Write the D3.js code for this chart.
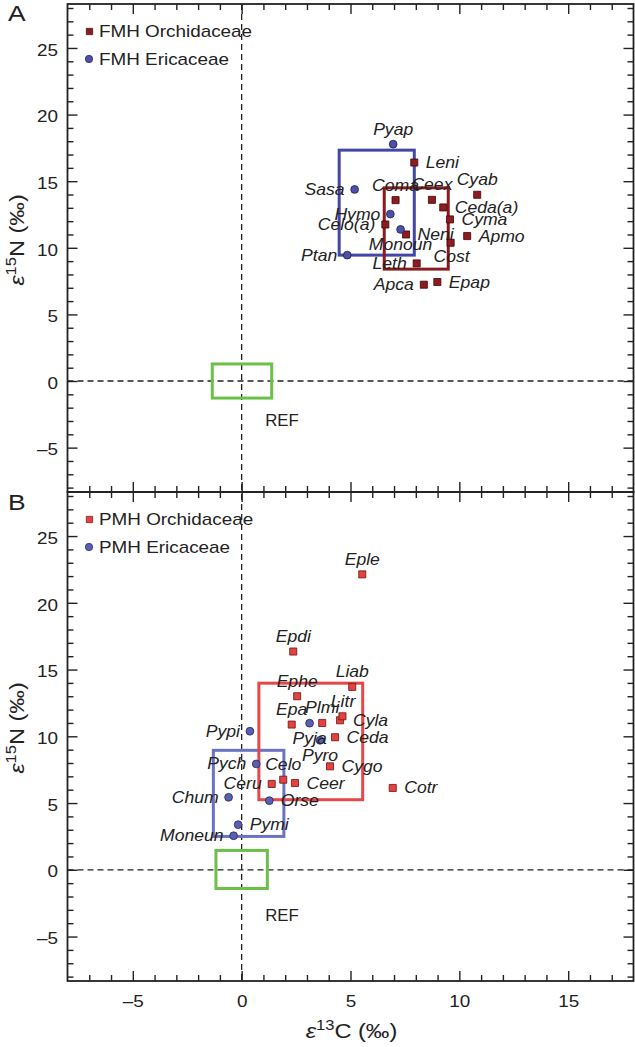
<!DOCTYPE html>
<html><head><meta charset="utf-8">
<script src="https://cdn.jsdelivr.net/npm/d3@7"></script>
<style>
body{margin:0;background:#fff}
svg{display:block}
text{font-family:"Liberation Sans",Arial,Helvetica,sans-serif;fill:#222}
</style>
</head><body><svg id="c" width="635" height="1047"></svg>
<script>
// ---------- data ----------
const xMajorTicks = [-5, 0, 5, 10, 15];
const yMajorTicks = [-5, 0, 5, 10, 15, 20, 25];

// Panel A: fully mycoheterotrophic (FMH)
const fmhOrchNames = ["Leni","Coma","Ceex","Cyab","Ceda(a)","Cyma","Celo(a)","Neni","Apmo","Cost","Leth","Apca","Epap"];
const fmhOrchC     = [7.93, 7.07, 8.74, 10.82, 9.26, 9.57, 6.60, 7.55, 10.36, 9.60, 8.04, 8.37, 8.99];
const fmhOrchN     = [16.4, 13.58, 13.6, 13.98, 13.03, 12.13, 11.75, 11.0, 10.88, 10.38, 8.83, 7.23, 7.43];

const fmhEricNames = ["Pyap","Sasa","Hymo","Monoun","Ptan"];
const fmhEricC     = [6.96, 5.19, 6.83, 7.30, 4.85];
const fmhEricN     = [17.78, 14.38, 12.53, 11.38, 9.45];

// Panel B: partially mycoheterotrophic (PMH)
const pmhOrchNames = ["Eple","Epdi","Liab","Ephe","Epa","Plmi","Litr","Cyla","Ceda","Cygo","Celo","Ceru","Ceer","Cotr"];
const pmhOrchC     = [5.54, 2.37, 5.08, 2.55, 2.30, 3.70, 4.52, 4.63, 4.29, 4.06, 1.91, 1.38, 2.45, 6.94];
const pmhOrchN     = [22.13, 16.35, 13.70, 13.0, 10.88, 11.0, 11.2, 11.5, 9.93, 7.75, 6.75, 6.43, 6.5, 6.13];

const pmhEricNames = ["Pypi","Pyja","Pyro","Pych","Chum","Orse","Pymi","Moneun"];
const pmhEricC     = [0.38, 3.12, 3.6, 0.67, -0.6, 1.27, -0.16, -0.37];
const pmhEricN     = [10.38, 10.98, 9.7, 7.93, 5.43, 5.18, 3.38, 2.55];

// group ranges (boxes): [cMin, cMax, nMin, nMax]
const boxFmhEric = [4.48, 7.93, 9.45, 17.33];
const boxFmhOrch = [6.55, 9.49, 8.4, 14.5];
const boxRefA    = [-1.35, 1.38, -1.28, 1.28];
const boxPmhOrch = [0.79, 5.56, 5.25, 13.98];
const boxPmhEric = [-1.3, 1.94, 2.5, 8.95];
const boxRefB    = [-1.18, 1.18, -1.4, 1.45];

const legendA = ["FMH Orchidaceae", "FMH Ericaceae"];
const legendB = ["PMH Orchidaceae", "PMH Ericaceae"];

// ---------- layout (label placement) ----------
const labelSide = {
  Pyap:"t", Leni:"r", Coma:"t", Ceex:"t", Cyab:"t", "Ceda(a)":"r", Cyma:"r", "Celo(a)":"l",
  Neni:"r", Apmo:"r", Cost:"b", Leth:"l", Apca:"l", Epap:"r",
  Sasa:"l", Hymo:"l", Monoun:"b", Ptan:"l",
  Eple:"t", Epdi:"t", Liab:"t", Ephe:"t", Epa:"t", Plmi:"t", Litr:"t", Cyla:"r", Ceda:"r",
  Cygo:"r", Celo:"t", Ceru:"l", Ceer:"r", Cotr:"r",
  Pypi:"l", Pyja:"b", Pyro:"b", Pych:"l", Chum:"l", Orse:"r", Pymi:"r", Moneun:"l"
};
const labelNudge = { Litr:[3,-4], Cyla:[-1,4], Cost:[1,-1] };

// ---------- drawing ----------
const svg = d3.select("#c");
const x = d3.scaleLinear().domain([-8, 18]).range([67.5, 633.5]);
const panels = [
  {top:4, bottom:492, letter:"A", legend:legendA,
   orch:{names:fmhOrchNames,c:fmhOrchC,n:fmhOrchN,fill:"#8e1b1f",stroke:"#3d0708"},
   eric:{names:fmhEricNames,c:fmhEricC,n:fmhEricN,fill:"#4c51a4",stroke:"#1e1f55"},
   boxes:[{b:boxFmhEric,col:"#4446a6"},{b:boxFmhOrch,col:"#8b1a1f"}],
   ref:boxRefA, refLabel:[1.08,-2.95]},
  {top:492, bottom:981, letter:"B", legend:legendB,
   orch:{names:pmhOrchNames,c:pmhOrchC,n:pmhOrchN,fill:"#e5413e",stroke:"#6a1515"},
   eric:{names:pmhEricNames,c:pmhEricC,n:pmhEricN,fill:"#5a60b0",stroke:"#23255a"},
   boxes:[{b:boxPmhEric,col:"#6a72c4"},{b:boxPmhOrch,col:"#e8474a"}],
   ref:boxRefB, refLabel:[1.08,-3.4]}
];

function T(g, px, py, str, o={}) {
  const size=o.size||16, sx=o.sx||1.18;
  return g.append("text")
    .attr("transform", `translate(${px},${py})${o.rot?` rotate(${o.rot})`:""} scale(${sx},1)`)
    .attr("text-anchor", o.anchor||"start")
    .style("font-size", size+"px")
    .style("font-style", o.italic?"italic":"normal")
    .text(str);
}
const fmt = d => d < 0 ? "\u2013" + Math.abs(d) : String(d);
const xMinor = d3.range(-7, 18).filter(v => v % 5 !== 0);
const yMinor = d3.range(-8, 29).filter(v => v % 5 !== 0);

const gDash = svg.append("g");
// vertical zero line across both panels
gDash.append("line").attr("x1", x(0)).attr("x2", x(0)).attr("y1", 4).attr("y2", 981)
  .attr("stroke", "#222").attr("stroke-width", 1.3).attr("stroke-dasharray", "6,4");

panels.forEach((p, i) => {
  const y = d3.scaleLinear().domain([-8.33, 28.3]).range([p.bottom, p.top]);
  const g = svg.append("g");

  // zero line
  g.append("line").attr("x1", x.range()[0]).attr("x2", x.range()[1]).attr("y1", y(0)).attr("y2", y(0))
    .attr("stroke", "#222").attr("stroke-width", 1.3).attr("stroke-dasharray", "6,4");

  // boxes
  const drawBox = (b, col) => g.append("rect")
    .attr("x", x(b[0])).attr("y", y(b[3]))
    .attr("width", x(b[1]) - x(b[0])).attr("height", y(b[2]) - y(b[3]))
    .attr("fill", "none").attr("stroke", col).attr("stroke-width", 3);
  drawBox(p.ref, "#6cc04a");
  p.boxes.forEach(bx => drawBox(bx.b, bx.col));
  T(g, x(p.refLabel[0]), y(p.refLabel[1]) + 5.5, "REF", {sx:1.05});

  // axes (inward ticks)
  const axG = svg.append("g").style("color", "#222");
  const mk = (axis, tx, ty, vals, len, labels) => {
    const a = axG.append("g").attr("transform", `translate(${tx},${ty})`)
      .call(axis.tickValues(vals).tickSize(-len).tickSizeOuter(0)
        .tickPadding(labels ? (labels === "l" ? 8 : 15) : 0).tickFormat(labels ? fmt : () => ""));
    a.select(".domain").remove();
    a.selectAll("line").attr("stroke-width", 1.4);
    return a;
  };
  const yl = mk(d3.axisLeft(y), x.range()[0], 0, yMajorTicks, 10, "l");
  yl.selectAll("text").style("font-size", "16px").attr("dy", "0.45em").attr("transform", "scale(1.18,1)");
  mk(d3.axisLeft(y), x.range()[0], 0, yMinor, 6, null);
  mk(d3.axisRight(y), x.range()[1], 0, yMajorTicks, 10, null);
  mk(d3.axisRight(y), x.range()[1], 0, yMinor, 6, null);
  mk(d3.axisTop(x), 0, p.top, xMajorTicks, 10, null);
  mk(d3.axisTop(x), 0, p.top, xMinor, 6, null);
  const xb = mk(d3.axisBottom(x), 0, p.bottom, xMajorTicks, 10, i === 1 ? "b" : null);
  if (i === 1) xb.selectAll("text").style("font-size", "16px").attr("transform", "scale(1.18,1)");
  mk(d3.axisBottom(x), 0, p.bottom, xMinor, 6, null);

  // frame
  svg.append("rect").attr("x", x.range()[0]).attr("y", p.top)
    .attr("width", x.range()[1] - x.range()[0]).attr("height", p.bottom - p.top)
    .attr("fill", "none").attr("stroke", "#222").attr("stroke-width", 1.8);

  // points
  const gp = svg.append("g");
  const sq = d3.symbol().type(d3.symbolSquare).size(50);
  p.orch.names.forEach((nm, k) => {
    gp.append("path").attr("d", sq).attr("transform", `translate(${x(p.orch.c[k])},${y(p.orch.n[k])})`)
      .attr("fill", p.orch.fill).attr("stroke", p.orch.stroke).attr("stroke-width", 0.8);
  });
  p.eric.names.forEach((nm, k) => {
    gp.append("circle").attr("cx", x(p.eric.c[k])).attr("cy", y(p.eric.n[k])).attr("r", 3.9)
      .attr("fill", p.eric.fill).attr("stroke", p.eric.stroke).attr("stroke-width", 0.8);
  });

  // labels
  const gl = svg.append("g");
  const place = (nm, cx, cy) => {
    const s = labelSide[nm], nd = labelNudge[nm] || [0,0];
    let dx=0, dy=0, anchor="middle";
    if (s === "t") { dy = -9.5; }
    else if (s === "b") { dy = 20.5; }
    else if (s === "r") { dx = 11.5; dy = 5.5; anchor = "start"; }
    else { dx = -10; dy = 5.5; anchor = "end"; }
    T(gl, cx + dx + nd[0], cy + dy + nd[1], nm, {italic:true, anchor, sx:1.1});
  };
  p.orch.names.forEach((nm, k) => place(nm, x(p.orch.c[k]), y(p.orch.n[k])));
  p.eric.names.forEach((nm, k) => place(nm, x(p.eric.c[k]), y(p.eric.n[k])));

  // legend
  const lg = svg.append("g");
  const ly0 = p.top + 27.5, ly1 = p.top + 55;
  lg.append("path").attr("d", d3.symbol().type(d3.symbolSquare).size(40))
    .attr("transform", `translate(89.5,${ly0})`).attr("fill", p.orch.fill).attr("stroke", p.orch.stroke).attr("stroke-width", 0.7);
  lg.append("circle").attr("cx", 89).attr("cy", ly1).attr("r", 3.7)
    .attr("fill", p.eric.fill).attr("stroke", p.eric.stroke).attr("stroke-width", 0.7);
  T(lg, 99, ly0 + 5.3, p.legend[0]);
  T(lg, 99, ly1 + 5.7, p.legend[1]);

  // panel letter
  T(svg, 8, p.top + (i === 0 ? 16.7 : 18), p.letter, {size:22, sx:1.2});

  // y title
  const yt = svg.append("text")
    .attr("transform", `translate(23.5,${p.top + 236}) rotate(-90) scale(1.18,1)`)
    .attr("text-anchor", "middle").style("font-size", "20px");
  yt.append("tspan").style("font-style", "italic").text("\u03b5");
  yt.append("tspan").style("font-size", "14px").attr("dy", -8).text("15");
  yt.append("tspan").attr("dy", 8).text("N (\u2030)");
});

// x title
const xt = svg.append("text")
  .attr("transform", `translate(351.5,1038) scale(1.18,1)`)
  .attr("text-anchor", "middle").style("font-size", "20px");
xt.append("tspan").style("font-style", "italic").text("\u03b5");
xt.append("tspan").style("font-size", "14px").attr("dy", -8).text("13");
xt.append("tspan").attr("dy", 8).text("C (\u2030)");
</script>
</body></html>
